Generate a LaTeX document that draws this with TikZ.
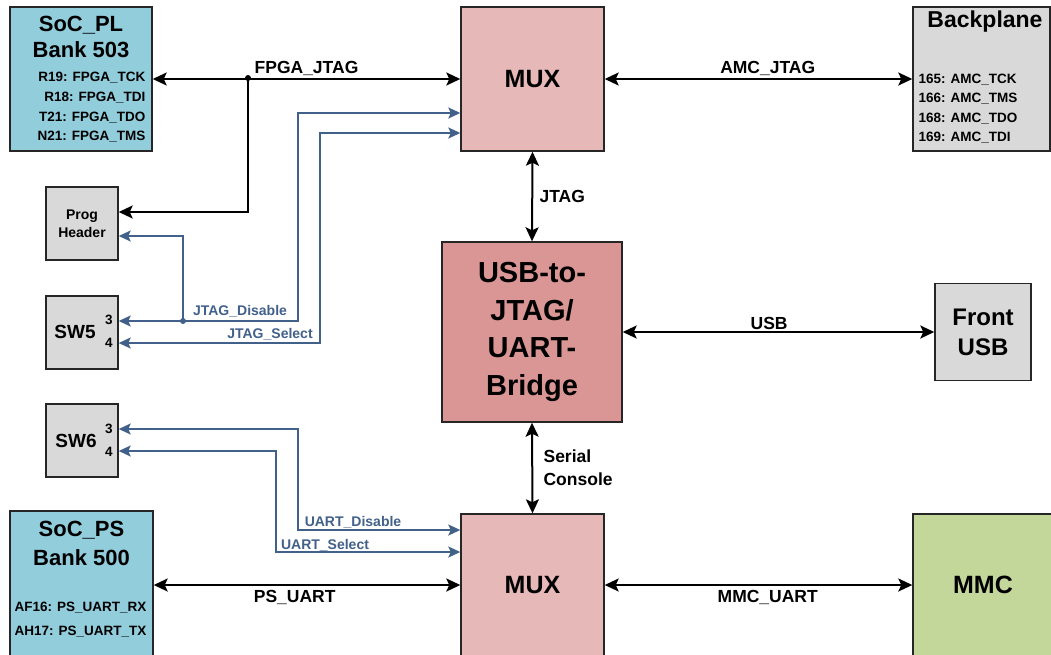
\documentclass[tikz,border=0pt]{standalone}
\usepackage{fontspec}
\setmainfont{Liberation Sans}
\usetikzlibrary{arrows.meta}
\definecolor{socblue}{RGB}{146,205,220}
\definecolor{muxred}{RGB}{230,184,183}
\definecolor{bridgered}{RGB}{218,150,148}
\definecolor{boxgray}{RGB}{217,217,217}
\definecolor{mmcgreen}{RGB}{196,215,155}
\definecolor{selblue}{RGB}{65,96,138}

\begin{document}
\begin{tikzpicture}[x=1pt,y=-1pt]
    \tikzset{blk/.style={draw=black!85, line width=1.4pt, inner sep=0pt, align=center},
             bus/.style={line width=2pt, >={Stealth[length=14pt,width=13pt,inset=3pt]}, <->},
             sel/.style={selblue, line width=1.8pt, >={Stealth[length=12pt,width=11pt,inset=2.5pt]}, <->},
             big/.style={font=\fontsize{25}{30}\selectfont\bfseries},
             ttl/.style={font=\fontsize{22}{26}\selectfont\bfseries},
             pin/.style={font=\fontsize{13.5}{16}\selectfont\bfseries},
             lbl/.style={font=\fontsize{17.5}{23}\selectfont\bfseries},
             blbl/.style={selblue, font=\fontsize{14}{16}\selectfont\bfseries}}
    \useasboundingbox (0,0) rectangle (1051,654);
    \clip (0,0) rectangle (1051,654);

    % boxes
    \node[blk, fill=socblue, minimum width=142pt, minimum height=144pt] (socpl) at (81,79) {};
    \node[blk, fill=muxred, minimum width=143pt, minimum height=144pt, big] (muxtop) at (532.5,79) {MUX};
    \node[blk, fill=boxgray, minimum width=137pt, minimum height=144pt] (backplane) at (981.5,79) {};
    \node[blk, fill=boxgray, minimum width=72pt, minimum height=73pt, font=\fontsize{14}{18}\selectfont\bfseries] (prog) at (82,223.5) {Prog\\Header};
    \node[blk, fill=boxgray, minimum width=72pt, minimum height=73pt] (sw5) at (82,332.5) {};
    \node[blk, fill=bridgered, minimum size=180pt, font=\fontsize{29}{37.5}\selectfont\bfseries] (bridge) at (532,332) {USB-to-\\JTAG/\\UART-\\Bridge};
    \node[blk, fill=boxgray, minimum width=96pt, minimum height=97pt, font=\fontsize{24}{30}\selectfont\bfseries] (frontusb) at (983,332) {Front\\USB};
    \node[blk, fill=boxgray, minimum width=72pt, minimum height=73pt] (sw6) at (82,440.5) {};
    \node[blk, fill=socblue, minimum width=143pt, minimum height=148pt] (socps) at (81.5,585) {};
    \node[blk, fill=muxred, minimum width=143pt, minimum height=142pt, big] (muxbot) at (532.5,585) {MUX};
    \node[blk, fill=mmcgreen, minimum width=140pt, minimum height=142pt, big] (mmc) at (983,585) {MMC};

    % box texts
    \node[ttl] (socplname) at (81,25) {SoC\_PL};
    \node[ttl] (socplbank) at (81,50) {Bank 503};
    \node[pin, anchor=east] (r19) at (149,78) {R19: FPGA\_TCK};
    \node[pin, anchor=east] (r18) at (149,98) {R18: FPGA\_TDI};
    \node[pin, anchor=east] (t21) at (149,118) {T21: FPGA\_TDO};
    \node[pin, anchor=east] (n21) at (149,137) {N21: FPGA\_TMS};
    \node[ttl, font=\fontsize{23}{26}\selectfont\bfseries] (bpname) at (985,22) {Backplane};
    \node[pin, anchor=west] (p165) at (915,80) {165: AMC\_TCK};
    \node[pin, anchor=west] (p166) at (915,99) {166: AMC\_TMS};
    \node[pin, anchor=west] (p168) at (915,119) {168: AMC\_TDO};
    \node[pin, anchor=west] (p169) at (915,138) {169: AMC\_TDI};
    \node[font=\fontsize{19}{22}\selectfont\bfseries] (sw5name) at (75,332) {SW5};
    \node[pin] (sw5p3) at (109,320) {3};
    \node[pin] (sw5p4) at (109,343) {4};
    \node[font=\fontsize{19}{22}\selectfont\bfseries] (sw6name) at (76,441) {SW6};
    \node[pin] (sw6p3) at (109,429) {3};
    \node[pin] (sw6p4) at (109,452) {4};
    \node[ttl] (socpsname) at (81.5,530) {SoC\_PS};
    \node[ttl] (socpsbank) at (81.5,558) {Bank 500};
    \node[pin, anchor=east] (af16) at (150,608) {AF16: PS\_UART\_RX};
    \node[pin, anchor=east] (ah17) at (150,632) {AH17: PS\_UART\_TX};

    % black buses
    \draw[bus] (socpl.east) -- (muxtop.west) node[lbl, midway, above=-1pt] (fpgalbl) {FPGA\_JTAG};
    \draw[bus] (muxtop.east) -- (backplane.west) node[lbl, pos=.53, above=-1pt] (amclbl) {AMC\_JTAG};
    \draw[bus] (muxtop.south) -- (bridge.north) node[lbl, midway, right=3pt] (jtaglbl) {JTAG};
    \draw[bus] (bridge.east) -- (frontusb.west) node[lbl, pos=.47, above=-1.5pt] (usblbl) {USB};
    \draw[bus] (bridge.south) -- (muxbot.north) node[lbl, midway, right=7pt, align=left] (serlbl) {Serial\\Console};
    \draw[bus] (socps.east) -- (muxbot.west) node[lbl, pos=.46, below=1pt] (pslbl) {PS\_UART};
    \draw[bus] (muxbot.east) -- (mmc.west) node[lbl, pos=.53, below=1pt] (mmclbl) {MMC\_UART};

    \coordinate (fj) at (248,78);
    \fill (fj) circle (3pt);
    \draw[line width=2pt, >={Stealth[length=14pt,width=13pt,inset=3pt]}, ->] (fj) |- ([yshift=11.5pt]prog.east);

    % select lines
    \draw[sel] ([yshift=11.5pt]sw5.east) -| (298,113) -- ([yshift=-34pt]muxtop.west);
    \draw[sel] ([yshift=-10.5pt]sw5.east) -| (320,133) -- ([yshift=-54pt]muxtop.west);
    \coordinate (jd) at (183,321);
    \fill[selblue] (jd) circle (3pt);
    \draw[sel, -{Stealth[length=12pt,width=11pt,inset=2.5pt]}] (jd) |- ([yshift=-12.5pt]prog.east);
    \node[blbl] (jdislbl) at (240,311) {JTAG\_Disable};
    \node[blbl] (jsellbl) at (270,334) {JTAG\_Select};

    \draw[sel] ([yshift=11.5pt]sw6.east) -| (298,530) -- ([yshift=55pt]muxbot.west);
    \draw[sel] ([yshift=-10.5pt]sw6.east) -| (276,552) -- ([yshift=33pt]muxbot.west);
    \node[blbl] (udislbl) at (353,522) {UART\_Disable};
    \node[blbl] (usellbl) at (325,545) {UART\_Select};
\end{tikzpicture}
\end{document}
